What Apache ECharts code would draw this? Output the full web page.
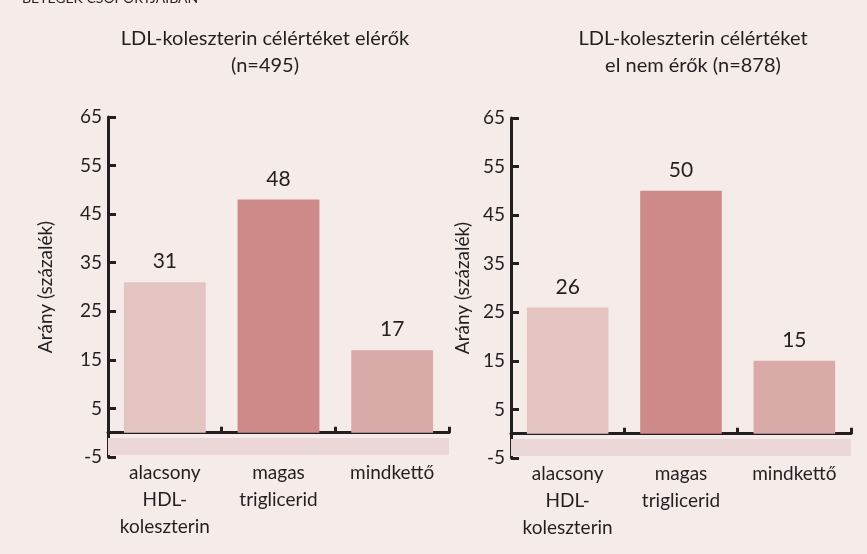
<!DOCTYPE html>
<html>
<head>
<meta charset="utf-8">
<script src="https://cdn.jsdelivr.net/npm/echarts@6/dist/echarts.min.js"></script>
<style>
  html, body { margin: 0; padding: 0; background: #f5ebe8; }
  #chart { width: 867px; height: 554px; }
</style>
</head>
<body>
<div id="chart"></div>
<script>
// adatok
const categories = ["alacsony\nHDL-\nkoleszterin", "magas\ntriglicerid", "mindkettő"];
const reachedValues = [31, 48, 17];      // célértéket elérők (n=495)
const notReachedValues = [26, 50, 15];   // célértéket el nem érők (n=878)
const barColors = ["#e3c4c1", "#cd8a89", "#daaaa8"];
const yTicks = { min: -5, max: 65, interval: 10 };
const titles = ["LDL-koleszterin célértéket elérők\n(n=495)", "LDL-koleszterin célértéket\nel nem érők (n=878)"];
const yName = "Arány (százalék)";

const FONT = "Lato";
const INK = "#231f20";

const chart = echarts.init(document.getElementById("chart"));

const makeXAxis = (gridIndex) => ({
  type: "category",
  gridIndex,
  data: categories,
  axisLine: { onZero: true, lineStyle: { color: INK, width: 3 } },
  axisTick: { show: true, inside: true, length: 6, lineStyle: { color: INK, width: 3 } },
  axisLabel: {
    interval: 0,
    margin: 2, // a feliratok a rács aljától számítanak
    color: INK,
    fontFamily: FONT,
    fontSize: 19,
    lineHeight: 27,
  },
});

const makeYAxis = (gridIndex, nameGap) => ({
  type: "value",
  gridIndex,
  min: yTicks.min,
  max: yTicks.max,
  interval: yTicks.interval,
  name: yName,
  nameLocation: "middle",
  nameGap,
  nameTextStyle: { color: INK, fontFamily: FONT, fontSize: 19 },
  axisLine: { show: true, lineStyle: { color: INK, width: 3 } },
  axisTick: { show: true, inside: true, length: 8, lineStyle: { color: INK, width: 3 } },
  axisLabel: { color: INK, fontFamily: FONT, fontSize: 19, margin: 6 },
  splitLine: { show: false },
});

const makeSeries = (index, values) => ({
  type: "bar",
  xAxisIndex: index,
  yAxisIndex: index,
  barWidth: "72%",
  data: values.map((v, i) => ({ value: v, itemStyle: { color: barColors[i] } })),
  label: {
    show: true,
    position: "top",
    distance: 10,
    color: INK,
    fontFamily: FONT,
    fontSize: 21,
  },
  markArea: {
    silent: true,
    itemStyle: { color: "#ebd7d8" },
    data: [[{ yAxis: -1.1 }, { yAxis: -4.6 }]],
  },
});

const titleStyle = { color: INK, fontFamily: FONT, fontSize: 20, fontWeight: "normal", lineHeight: 27 };

const option = {
  backgroundColor: "#f5ebe8",
  animation: false,
  title: [
    { text: titles[0], left: 260, top: 20, textAlign: "center", textStyle: titleStyle },
    { text: titles[1], left: 688, top: 20, textAlign: "center", textStyle: titleStyle },
  ],
  graphic: [
    {
      type: "text",
      x: 22,
      y: -9,
      style: { text: "BETEGEK CSOPORTJAIBAN", fill: INK, font: "14px " + FONT, verticalAlign: "top" },
    },
  ],
  grid: [
    { left: 108, top: 117, width: 341, height: 340, containLabel: false, outerBoundsMode: "none" },
    { left: 511, top: 118, width: 340, height: 340, containLabel: false, outerBoundsMode: "none" },
  ],
  xAxis: [makeXAxis(0), makeXAxis(1)],
  yAxis: [makeYAxis(0, 53), makeYAxis(1, 39)],
  series: [makeSeries(0, reachedValues), makeSeries(1, notReachedValues)],
};

chart.setOption(option);
</script>
</body>
</html>
